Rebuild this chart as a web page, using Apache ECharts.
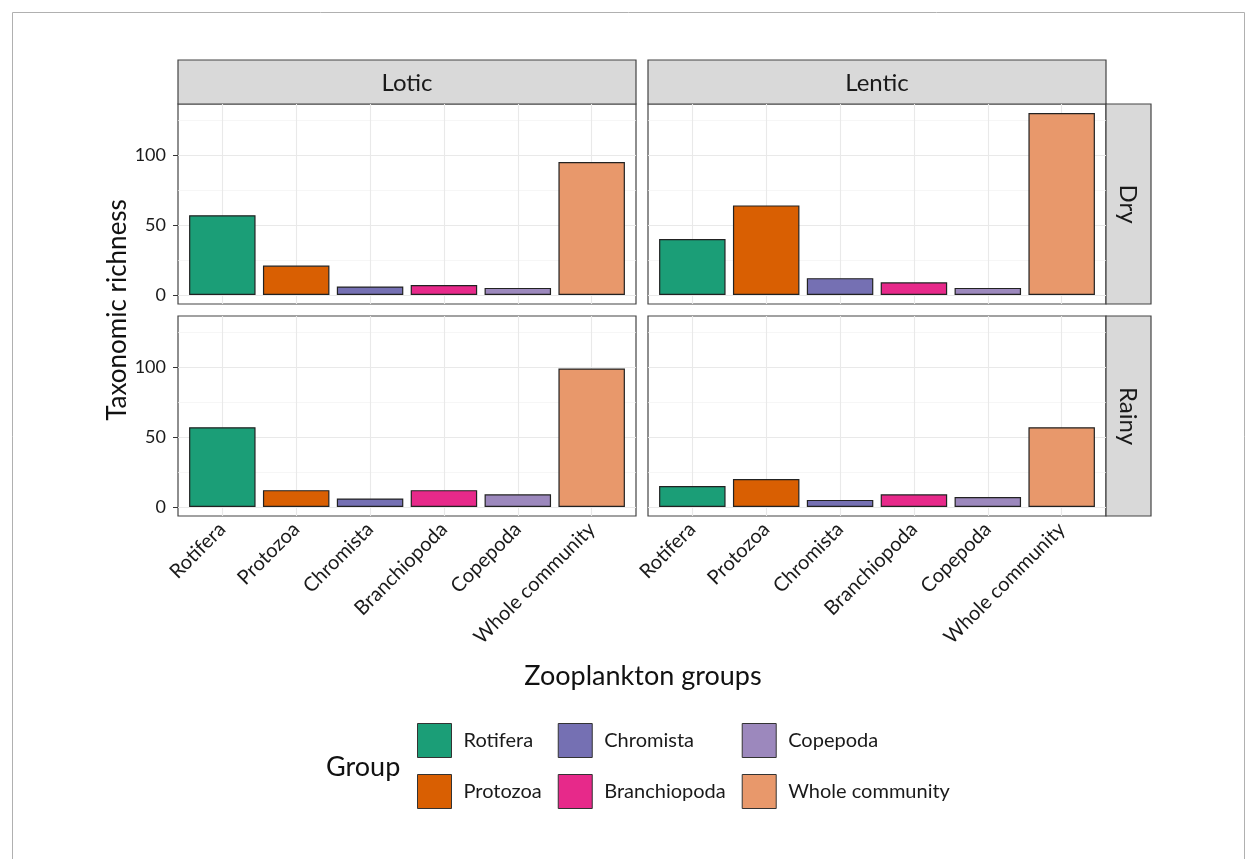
<!DOCTYPE html>
<html>
<head>
<meta charset="utf-8">
<title>Zooplankton taxonomic richness</title>
<script src="https://cdn.jsdelivr.net/npm/echarts@6/dist/echarts.min.js"></script>
<style>
  html, body { margin: 0; padding: 0; background: #fff; }
  #chart { width: 1257px; height: 859px; }
</style>
</head>
<body>
<div id="chart"></div>
<script>
// data
var groups = ['Rotifera', 'Protozoa', 'Chromista', 'Branchiopoda', 'Copepoda', 'Whole community'];
var loticDry    = [57, 21, 6, 7, 5, 95];
var lenticDry   = [40, 64, 12, 9, 5, 130];
var loticRainy  = [57, 12, 6, 12, 9, 99];
var lenticRainy = [15, 20, 5, 9, 7, 57];
var yLabelValues = [0, 50, 100];
var yMinorBreaks = [25, 75, 125];
var habitats = ['Lotic', 'Lentic'];
var seasons = ['Dry', 'Rainy'];

var colors = ['#1b9e77', '#d95f02', '#7570b3', '#e7298a', '#9c88bd', '#e8986b'];
var font = 'Lato';

var panels = [
  { col: 0, row: 0, values: loticDry },
  { col: 1, row: 0, values: lenticDry },
  { col: 0, row: 1, values: loticRainy },
  { col: 1, row: 1, values: lenticRainy }
];

var catPos = groups.map(function (g, k) { return k + 1; });

// panel geometry
var panelLeft = [178, 648], panelTop = [104, 316];
var panelW = 458, panelH = 200;

var grids = [], xAxes = [], yAxes = [], series = [];

// background grid lines as markLines (major + minor like ggplot)
var gridLineData = []
  .concat(yMinorBreaks.map(function (v) { return { yAxis: v, lineStyle: { color: '#f2f2f2', width: 0.7 } }; }))
  .concat(yLabelValues.map(function (v) { return { yAxis: v, lineStyle: { color: '#e9e9e9', width: 1.1 } }; }))
  .concat(catPos.map(function (v) { return { xAxis: v, lineStyle: { color: '#e9e9e9', width: 1.1 } }; }));

panels.forEach(function (p, i) {
  var bottom = p.row === 1, left = p.col === 0;
  grids.push({
    left: panelLeft[p.col], top: panelTop[p.row], width: panelW, height: panelH,
    show: true, backgroundColor: '#fff', borderColor: '#444', borderWidth: 1.2
  });
  xAxes.push({
    type: 'value', gridIndex: i, min: 0.4, max: 6.6,
    splitLine: { show: false },
    axisLine: { show: false },
    axisTick: { show: bottom, customValues: catPos, length: 5, lineStyle: { color: '#333' } },
    axisLabel: {
      show: bottom, customValues: catPos, rotate: 45, margin: 10,
      fontFamily: font, fontSize: 20, color: '#1a1a1a',
      formatter: function (v) { return groups[Math.round(v) - 1] || ''; }
    }
  });
  yAxes.push({
    type: 'value', gridIndex: i, min: -6.5, max: 136.5,
    splitLine: { show: false },
    axisLine: { show: false },
    axisTick: { show: left, customValues: yLabelValues, length: 5, lineStyle: { color: '#333' } },
    axisLabel: {
      show: left, customValues: yLabelValues, margin: 12,
      fontFamily: font, fontSize: 18, color: '#1a1a1a'
    }
  });
  groups.forEach(function (g, j) {
    var s = {
      type: 'bar', name: g, xAxisIndex: i, yAxisIndex: i,
      stack: 'panel' + i, barWidth: '90%',
      data: [[j + 1, p.values[j]]],
      itemStyle: { color: colors[j], borderColor: '#222', borderWidth: 1.2 },
      emphasis: { disabled: true },
      animation: false
    };
    if (j === 0) {
      s.markLine = {
        silent: true, z: 1, animation: false,
        symbol: ['none', 'none'],
        label: { show: false },
        emphasis: { disabled: true },
        lineStyle: { type: 'solid', color: '#e9e9e9', width: 1 },
        data: gridLineData
      };
    }
    series.push(s);
  });
});

// facet strips and titles
var graphics = [
  { type: 'rect', shape: { x: 12.5, y: 12.5, width: 1232, height: 900 }, style: { fill: 'none', stroke: '#b0b0b0', lineWidth: 1 }, silent: true }
];
habitats.forEach(function (h, c) {
  graphics.push({ type: 'rect', shape: { x: panelLeft[c], y: 60, width: panelW, height: 44 },
    style: { fill: '#d9d9d9', stroke: '#444', lineWidth: 1.2 }, silent: true });
  graphics.push({ type: 'text', x: panelLeft[c] + panelW / 2, y: 83,
    style: { text: h, font: '24px ' + font, fill: '#1a1a1a', align: 'center', verticalAlign: 'middle' }, silent: true });
});
seasons.forEach(function (s, r) {
  graphics.push({ type: 'rect', shape: { x: 1106, y: panelTop[r], width: 45, height: panelH },
    style: { fill: '#d9d9d9', stroke: '#444', lineWidth: 1.2 }, silent: true });
  graphics.push({ type: 'text', x: 1128, y: panelTop[r] + panelH / 2, rotation: -Math.PI / 2,
    style: { text: s, font: '24px ' + font, fill: '#1a1a1a', align: 'center', verticalAlign: 'middle' }, silent: true });
});
graphics.push({ type: 'text', x: 118, y: 310, rotation: Math.PI / 2,
  style: { text: 'Taxonomic richness', font: '26px ' + font, fill: '#111', align: 'center', verticalAlign: 'middle' }, silent: true });
graphics.push({ type: 'text', x: 643, y: 676,
  style: { text: 'Zooplankton groups', font: '27px ' + font, fill: '#111', align: 'center', verticalAlign: 'middle' }, silent: true });
graphics.push({ type: 'text', x: 326, y: 767,
  style: { text: 'Group', font: '27px ' + font, fill: '#111', align: 'left', verticalAlign: 'middle' }, silent: true });

var chart = echarts.init(document.getElementById('chart'));
var option = {
  backgroundColor: '#fff',
  animation: false,
  grid: grids,
  xAxis: xAxes,
  yAxis: yAxes,
  legend: {
    orient: 'vertical', left: 417, top: 723, height: 86, padding: 0,
    itemWidth: 34, itemHeight: 34, itemGap: 16,
    icon: 'rect', selectedMode: false,
    data: groups,
    itemStyle: { borderColor: '#333', borderWidth: 1 },
    textStyle: { fontFamily: font, fontSize: 20, color: '#1a1a1a', padding: [6, 0, 0, 7] }
  },
  graphic: graphics,
  series: series
};
chart.setOption(option);
</script>
</body>
</html>
